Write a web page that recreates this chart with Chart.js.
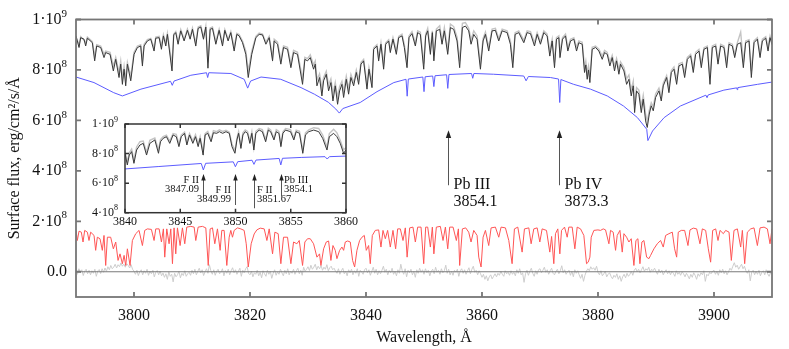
<!DOCTYPE html>
<html>
<head>
<meta charset="utf-8">
<script src="https://cdn.jsdelivr.net/npm/chart.js@4.4.1/dist/chart.umd.min.js"></script>
<style>
  html, body { margin: 0; padding: 0; background: #fff; }
  #wrap { position: relative; width: 789px; height: 349px; }
  #main { position: absolute; left: 0; top: 0; }
  #inset { position: absolute; left: 75px; top: 112px; }
</style>
</head>
<body>
<div id="wrap">
  <canvas id="main" width="789" height="349"></canvas>
  <canvas id="inset" width="285" height="125"></canvas>
</div>
<script>
// Valores de fluxo em unidades de 1e8 erg/cm2/s/Å

// Espectro superior: comprimento de onda, modelo (preto) e observado (cinza)
const topWl = [
  3790.00,3790.52,3790.81,3791.38,3791.67,3791.96,3792.82,3793.22,3793.57,3794.26,
  3794.83,3795.12,3795.87,3796.44,3796.85,3797.42,3797.71,3798.00,3798.29,3798.57,
  3798.86,3799.44,3800.01,3800.59,3801.16,3801.45,3801.74,3802.31,3802.89,3803.46,
  3803.75,3804.33,3804.73,3805.07,3805.48,3805.76,3806.55,3806.85,3807.20,3807.60,
  3808.06,3808.64,3809.21,3809.68,3810.08,3810.65,3811.06,3811.52,3811.98,3812.38,
  3812.75,3813.13,3813.53,3814.11,3814.68,3815.26,3815.66,3816.23,3816.69,3817.27,
  3817.73,3818.13,3818.71,3819.28,3819.70,3820.30,3821.01,3821.58,3822.16,3822.74,
  3823.31,3823.89,3824.17,3824.75,3825.32,3825.78,3826.47,3827.05,3827.51,3828.19,
  3829.06,3829.46,3829.92,
  3830.39,3830.96,3831.25,3831.54,3831.99,3832.40,3832.69,3833.15,3833.55,3833.95,
  3834.30,3834.70,3835.10,3835.45,3835.85,3836.14,3836.60,3837.00,3837.40,3837.87,
  3838.33,3838.73,3839.13,3839.59,3840.17,3840.51,3841.03,3841.32,3841.89,3842.18,
  3842.58,3843.04,3843.39,3843.91,3844.19,3844.65,3845.23,3845.63,3846.21,3846.61,
  3847.07,3847.41,3847.93,3848.51,3848.91,3849.37,3849.95,3850.29,3850.64,3851.10,
  3851.44,3851.70,3852.13,3852.71,3853.11,3853.51,3854.09,3854.55,3855.12,3855.70,
  3856.15,3856.62,3857.14,3857.71,3858.11,3858.58,3859.15,3859.73,3860.19,3860.59,
  3861.16,3861.74,3862.31,3862.89,3863.47,3864.33,3864.90,3865.31,3865.71,3866.34,
  3867.21,3867.78,3868.36,3869.05,3869.51,3870.08,3870.66,3871.23,3871.69,
  3872.10,3872.50,3872.84,3873.25,3873.45,3873.88,3874.40,3874.80,3875.26,3875.84,
  3876.30,3876.70,3877.28,3877.68,3877.90,3878.14,3878.37,3878.60,3879.00,3879.58,
  3880.15,3880.73,3881.13,3881.59,3882.05,3882.45,3882.85,3883.20,3883.60,3883.89,
  3884.47,3884.93,3885.33,3885.73,3886.08,3886.31,3886.65,3887.05,3887.46,3887.80,
  3888.21,3888.49,3888.84,3889.18,3889.53,3889.93,3890.51,3890.91,3891.25,3891.83,
  3892.23,3892.64,3893.10,3893.56,3893.96,3894.53,3894.94,3895.40,3895.97,3896.43,
  3896.83,3897.41,3897.81,3898.27,3898.85,3899.31,3899.71,3900.29,3900.69,3901.15,
  3901.72,3902.18,3902.59,3903.16,3903.57,3904.03,3904.60,3905.06,3905.46,3906.04,
  3906.44,3906.90,3907.48,3907.94,3908.34,3908.92,3909.32,3909.66,3910.00
];
const modelFlux = [
  9.35,8.89,9.28,9.22,8.95,9.26,9.08,8.36,8.95,8.89,
  8.49,8.69,8.62,7.96,8.42,7.70,8.23,7.43,8.03,7.37,
  8.23,7.57,8.62,8.89,8.95,8.16,8.95,9.15,9.22,8.75,
  9.26,9.28,8.82,9.35,8.95,9.41,7.96,9.39,9.48,9.02,
  9.55,9.15,9.57,9.22,9.61,8.95,9.65,9.70,9.22,9.70,
  8.07,9.61,9.65,9.02,9.57,8.95,9.57,9.15,9.48,8.75,
  9.41,9.35,9.08,8.62,7.70,8.62,9.28,9.41,9.39,9.02,
  9.28,8.36,9.15,9.02,8.23,8.89,8.82,8.09,8.69,8.62,
  7.43,8.42,8.36,
  8.49,8.03,8.23,7.37,7.70,6.97,7.57,7.83,7.17,7.50,
  6.77,7.37,6.64,7.17,7.43,6.91,7.63,7.04,7.70,7.37,
  7.90,7.43,8.23,8.36,7.24,8.03,7.30,8.82,8.95,8.36,
  9.02,8.03,9.02,9.15,8.69,9.22,8.62,9.28,9.35,8.89,
  8.09,9.28,9.44,8.95,9.48,9.41,8.03,9.35,9.55,8.62,
  9.48,8.36,9.55,9.61,9.02,9.55,8.62,9.68,9.61,9.15,
  8.09,9.68,9.74,9.55,9.02,9.41,9.22,8.03,9.15,9.41,
  8.75,9.55,9.57,9.15,9.55,9.48,9.02,8.09,9.41,9.48,
  9.08,9.48,9.44,8.95,9.41,9.02,9.48,9.35,8.55,
  9.15,8.09,9.22,9.28,8.49,9.22,9.35,8.75,9.15,9.22,
  8.75,9.08,9.02,7.90,8.20,7.63,8.00,7.50,8.82,8.89,
  8.75,8.42,8.69,8.62,8.16,8.49,7.96,8.36,7.83,8.23,
  7.96,7.43,7.63,6.97,7.37,6.31,7.17,7.04,6.31,6.84,
  5.98,5.72,6.25,6.58,6.38,6.91,7.17,6.77,7.37,7.70,
  7.10,7.90,8.03,7.43,8.16,8.23,7.70,8.42,8.56,7.90,
  8.62,8.75,8.09,8.82,8.89,7.43,8.89,8.95,8.23,8.95,
  8.89,8.09,9.02,8.95,8.49,9.02,9.08,8.09,9.08,9.15,
  7.70,9.08,9.22,8.49,9.15,9.26,8.75,9.28,9.00
];
const obsFlux = [
  9.30,9.00,9.32,9.18,9.05,9.30,9.12,8.55,9.00,8.95,
  8.62,8.75,8.70,8.15,8.50,7.90,8.35,7.65,8.15,7.60,
  8.30,7.75,8.70,8.95,9.00,8.35,9.02,9.20,9.25,8.88,
  9.30,9.33,8.95,9.40,9.05,9.45,8.20,9.42,9.52,9.12,
  9.60,9.22,9.62,9.30,9.66,9.05,9.70,9.75,9.30,9.74,
  8.30,9.66,9.70,9.12,9.62,9.05,9.60,9.22,9.52,8.90,
  9.45,9.40,9.15,8.75,7.95,8.75,9.33,9.46,9.42,9.10,
  9.33,8.50,9.22,9.10,8.40,8.95,8.90,8.25,8.78,8.70,
  7.65,8.50,8.45,
  8.60,8.20,8.35,7.60,7.85,7.25,7.70,7.95,7.40,7.65,
  7.05,7.50,6.90,7.35,7.55,7.15,7.75,7.25,7.82,7.50,
  8.00,7.60,8.30,8.42,7.45,8.10,7.50,8.88,9.00,8.50,
  9.08,8.25,9.08,9.20,8.80,9.28,8.75,9.33,9.42,9.00,
  8.30,9.35,9.52,9.05,9.55,9.50,8.25,9.42,9.65,8.80,
  9.55,8.55,9.62,9.75,9.15,9.68,8.80,9.82,9.72,9.30,
  8.35,9.85,9.88,9.65,9.20,9.55,9.35,8.25,9.25,9.50,
  8.90,9.62,9.65,9.25,9.62,9.55,9.15,8.30,9.48,9.55,
  9.18,9.55,9.52,9.08,9.48,9.12,9.55,9.42,8.75,
  9.22,8.30,9.28,9.35,8.65,9.28,9.42,8.88,9.22,9.28,
  8.90,9.15,9.10,8.10,8.35,7.85,8.15,7.72,8.90,8.95,
  8.82,8.55,8.78,8.70,8.32,8.58,8.15,8.45,8.00,8.32,
  8.10,7.65,7.80,7.20,7.55,6.60,7.30,7.20,6.55,7.00,
  6.25,5.95,6.40,6.70,6.55,7.05,7.28,6.95,7.48,7.78,
  7.30,7.98,8.12,7.62,8.25,8.30,7.88,8.50,8.62,8.08,
  8.70,8.82,8.25,8.88,8.95,7.70,8.95,9.02,8.40,9.02,
  8.95,8.28,9.08,9.02,8.62,9.08,9.50,8.30,9.15,9.20,
  7.95,9.15,9.28,8.65,9.22,9.32,8.90,9.35,9.10
];

// Modelo sem linhas (azul): [comprimento de onda, fluxo]
const blueSpec = [
  [3790.0,7.72],[3793.1,7.50],[3796.5,7.10],[3798.0,6.97],[3801.2,7.24],[3806.3,7.55],[3806.6,7.39],[3806.9,7.56],
  [3809.8,7.79],[3812.5,7.89],[3812.7,7.70],[3812.9,7.89],[3816.7,7.86],[3819.0,7.63],[3819.6,7.28],[3820.1,7.56],
  [3821.9,7.72],[3825.3,7.63],[3828.8,7.30],[3831.1,7.04],[3833.5,6.72],[3834.8,6.45],[3835.4,6.29],[3836.0,6.47],
  [3839.0,6.71],[3841.9,7.14],[3844.8,7.50],[3846.9,7.63],[3847.1,6.96],[3847.3,7.64],[3849.8,7.72],[3850.0,7.14],
  [3850.2,7.73],[3851.5,7.76],[3851.7,7.34],[3851.9,7.77],[3853.9,7.81],[3854.1,7.27],[3854.3,7.82],[3858.2,7.86],
  [3858.4,7.67],[3858.6,7.86],[3862.0,7.83],[3867.2,7.76],[3867.6,7.57],[3868.0,7.74],[3871.8,7.70],[3873.2,7.64],
  [3873.4,6.71],[3873.6,7.62],[3875.8,7.43],[3878.7,7.24],[3881.6,6.97],[3884.4,6.57],[3886.8,6.11],[3888.4,5.65],
  [3888.6,5.20],[3889.4,5.58],[3891.4,6.11],[3894.2,6.57],[3898.6,7.00],[3898.8,6.90],[3899.0,7.01],[3901.7,7.20],
  [3903.9,7.29],[3904.0,7.22],[3904.1,7.30],[3907.5,7.43],[3910.0,7.52]
];

// Espectro vermelho: [comprimento de onda, fluxo]
const redSpec = [
  [3790.00,1.64],[3790.23,1.24],[3790.52,1.61],[3790.92,1.57],[3791.21,1.18],[3791.50,1.64],[3791.96,1.57],[3792.24,1.24],
  [3792.53,1.57],[3793.11,1.44],[3793.39,0.85],[3793.68,1.37],[3794.14,1.31],[3794.54,0.85],[3794.83,1.44],[3795.12,0.25],
  [3795.41,1.37],[3795.98,1.37],[3796.44,0.91],[3796.85,1.18],[3797.25,0.45],[3797.59,0.71],[3798.00,0.32],[3798.29,0.65],
  [3798.57,0.25],[3798.86,0.91],[3799.32,0.25],[3799.72,1.24],[3800.30,1.51],[3800.87,1.64],[3801.45,1.04],[3801.85,1.64],
  [3802.31,1.70],[3803.00,1.68],[3803.46,1.24],[3803.75,1.70],[3804.33,1.70],[3804.73,1.18],[3805.07,1.70],[3805.30,0.58],
  [3805.65,1.70],[3806.05,1.11],[3806.34,1.70],[3806.63,0.32],[3806.91,1.74],[3807.20,0.71],[3807.49,1.74],[3807.95,1.04],
  [3808.35,1.74],[3808.75,1.11],[3809.10,1.77],[3809.79,1.80],[3810.37,1.77],[3810.65,1.24],[3811.06,1.77],[3811.80,1.80],
  [3812.38,1.74],[3812.80,0.25],[3813.13,1.70],[3813.53,1.74],[3813.93,1.11],[3814.39,1.70],[3814.85,0.85],[3815.14,1.64],
  [3815.54,1.64],[3816.00,0.25],[3816.41,1.37],[3816.69,1.64],[3816.98,1.37],[3817.27,1.64],[3817.84,1.74],[3818.42,1.70],
  [3818.99,1.64],[3819.35,1.11],[3819.70,0.19],[3820.20,1.11],[3820.72,1.50],[3821.18,1.66],[3821.76,1.73],[3822.45,1.70],
  [3822.91,1.24],[3823.31,1.70],[3823.89,0.71],[3824.29,1.57],[3824.86,1.51],[3825.32,0.32],[3825.78,1.37],[3826.47,1.37],
  [3827.05,0.32],[3827.51,1.18],[3828.08,1.11],[3828.49,1.24],[3829.06,0.25],[3829.46,1.18],[3829.92,1.31],[3830.39,1.31],
  [3830.96,1.11],[3831.54,0.58],[3831.99,0.71],[3832.23,0.25],[3832.69,0.91],[3833.15,1.18],[3833.55,1.22],[3833.95,0.45],
  [3834.30,1.04],[3834.70,0.85],[3834.99,0.52],[3835.45,0.85],[3835.85,0.98],[3836.14,0.85],[3836.43,1.18],[3836.83,1.22],
  [3837.29,1.18],[3837.69,0.45],[3838.04,0.19],[3838.44,0.85],[3838.90,1.24],[3839.30,1.37],[3839.71,1.44],[3840.05,0.85],
  [3840.45,1.04],[3840.74,0.32],[3841.09,1.44],[3841.60,1.64],[3842.18,1.66],[3842.58,0.98],[3842.93,1.64],[3843.33,1.31],
  [3843.73,1.64],[3844.19,0.98],[3844.65,1.64],[3845.11,0.91],[3845.46,1.70],[3845.92,1.70],[3846.38,1.24],[3846.78,1.74],
  [3847.09,0.58],[3847.53,1.74],[3848.10,1.77],[3848.51,1.18],[3848.91,1.77],[3849.49,1.77],[3849.95,0.32],[3850.29,1.77],
  [3850.64,1.77],[3851.10,0.98],[3851.44,1.77],[3851.70,0.71],[3852.13,1.77],[3852.82,1.80],[3853.28,1.24],[3853.69,1.77],
  [3854.09,0.91],[3854.43,1.77],[3855.01,1.77],[3855.58,1.24],[3855.93,1.70],[3856.15,0.25],[3856.62,1.70],[3857.19,1.74],
  [3857.71,1.57],[3858.11,1.18],[3858.58,1.64],[3859.15,1.44],[3859.44,0.58],[3859.84,0.19],[3860.19,1.37],[3860.59,1.64],
  [3861.16,1.04],[3861.57,1.74],[3862.31,1.77],[3862.89,1.37],[3863.29,1.77],[3864.04,1.74],[3864.62,1.24],[3865.19,0.32],
  [3865.59,1.70],[3866.17,1.77],[3866.92,0.78],[3867.32,1.70],[3868.07,1.74],[3868.47,1.11],[3868.93,1.70],[3869.51,1.74],
  [3869.97,1.18],[3870.37,1.70],[3871.12,1.64],[3871.69,0.78],[3872.00,1.40],[3872.38,0.32],[3872.67,1.51],[3873.07,1.70],
  [3873.42,0.71],[3873.71,1.64],[3874.23,1.77],[3874.69,1.37],[3874.97,1.77],[3875.55,1.77],[3876.01,0.91],[3876.41,1.77],
  [3876.99,1.70],[3877.56,1.44],[3878.02,0.32],[3878.31,0.38],[3878.60,0.58],[3878.83,1.37],[3879.29,1.64],[3879.98,1.66],
  [3880.44,1.64],[3880.90,1.70],[3881.30,1.66],[3881.88,1.11],[3882.16,1.64],[3882.62,1.57],[3883.03,0.85],[3883.31,1.44],
  [3883.78,1.64],[3884.18,0.78],[3884.47,1.51],[3884.93,1.37],[3885.33,1.18],[3885.73,1.31],[3886.19,0.25],[3886.54,1.24],
  [3886.88,1.31],[3887.23,0.32],[3887.57,1.18],[3887.92,1.24],[3888.38,0.58],[3888.78,0.52],[3889.07,0.65],[3889.64,0.91],
  [3890.22,1.11],[3890.79,1.24],[3891.25,0.98],[3891.66,1.44],[3892.23,1.51],[3892.81,1.57],[3893.21,0.91],[3893.56,0.58],
  [3893.84,1.57],[3894.36,1.64],[3894.94,1.64],[3895.51,1.04],[3895.86,1.66],[3896.43,1.73],[3897.01,1.70],[3897.58,1.11],
  [3897.99,1.70],[3898.56,1.64],[3899.02,0.91],[3899.42,0.38],[3899.77,1.64],[3900.29,1.70],[3900.69,1.24],[3901.04,1.64],
  [3901.61,1.51],[3902.01,1.64],[3902.59,1.57],[3902.99,0.45],[3903.45,1.64],[3904.03,1.70],[3904.60,0.98],[3904.89,1.64],
  [3905.29,0.32],[3905.75,1.57],[3906.33,1.70],[3906.90,1.74],[3907.48,1.04],[3907.94,1.74],[3908.63,1.77],[3909.20,1.70],
  [3909.66,1.11],[3910.00,1.70]
];

// Resíduo (cinza, perto de zero), amostrado a cada 0.25 Å a partir de 3790
const RESID_START = 3790;
const RESID_STEP = 0.25;
const residFlux = [
  0.05,-0.10,0.12,-0.04,0.08,-0.15,0.02,0.10,-0.08,0.06,
  -0.12,0.04,-0.06,0.10,-0.18,0.03,0.09,-0.07,0.12,-0.02,
  0.15,0.02,0.20,0.08,0.25,0.12,0.18,0.30,0.15,0.28,
  0.20,0.35,0.22,0.30,0.18,0.32,0.25,0.15,0.28,0.10,
  0.02,-0.10,0.06,-0.15,0.00,0.08,-0.12,0.04,-0.06,0.10,
  -0.14,0.02,-0.08,0.06,-0.20,-0.02,0.05,-0.12,0.03,-0.16,
  -0.05,-0.22,-0.08,-0.30,0.00,-0.18,-0.10,-0.40,-0.06,-0.20,
  -0.12,0.02,-0.24,-0.06,-0.15,0.04,-0.18,-0.08,-0.02,-0.14,
  0.06,-0.08,0.10,-0.12,0.02,0.14,-0.05,0.08,-0.15,0.00,
  0.12,-0.06,0.28,0.04,-0.10,0.08,-0.14,0.02,0.10,-0.08,
  -0.02,0.12,-0.16,0.05,-0.06,0.10,-0.12,0.04,0.16,-0.04,
  0.08,-0.10,0.02,0.14,-0.18,0.06,-0.04,0.12,0.20,-0.06,
  -0.12,0.02,-0.20,-0.04,-0.10,0.06,-0.16,-0.02,-0.24,0.04,
  -0.08,-0.18,0.06,-0.10,0.02,-0.26,-0.06,0.08,-0.14,0.00,
  -0.10,0.10,-0.04,-0.16,0.06,-0.08,0.12,-0.12,0.02,-0.06,
  0.10,-0.10,0.04,0.14,-0.08,0.06,-0.14,0.18,0.02,0.10,
  0.20,0.05,0.26,0.10,0.18,0.30,0.08,0.22,0.12,0.25,
  0.06,0.18,0.10,0.28,0.04,0.16,0.22,0.08,0.14,0.02,
  -0.06,0.12,-0.10,0.04,0.14,-0.08,0.02,-0.16,0.08,-0.04,
  0.10,-0.12,0.04,-0.06,0.12,-0.18,0.06,0.00,-0.10,0.08,
  0.14,-0.04,0.08,-0.14,0.02,0.18,-0.06,0.10,-0.12,0.04,
  -0.08,0.06,0.22,-0.02,0.10,-0.12,0.05,-0.04,0.14,-0.10,
  0.02,-0.16,0.08,-0.06,0.30,0.04,-0.10,0.12,-0.20,0.06,
  -0.04,0.10,-0.12,0.02,-0.22,0.08,-0.06,0.14,-0.02,0.08,
  -0.10,0.12,-0.04,0.06,-0.16,0.02,0.10,-0.08,0.18,-0.02,
  0.06,-0.10,0.12,-0.04,0.04,0.26,-0.06,0.10,-0.12,0.02,
  -0.14,0.06,-0.02,0.10,-0.18,0.04,0.12,-0.06,0.08,-0.10,
  0.04,0.16,-0.08,0.10,0.22,-0.02,0.06,-0.12,0.04,-0.08,
  -0.22,-0.10,-0.30,-0.16,-0.36,-0.20,-0.12,-0.28,-0.18,-0.08,
  -0.20,-0.06,-0.14,0.02,-0.10,-0.18,0.04,-0.08,-0.02,-0.14,
  0.04,-0.10,-0.02,-0.16,0.08,-0.06,0.12,-0.12,-0.04,-0.42,
  -0.08,0.06,-0.14,0.02,0.14,-0.06,-0.18,0.04,-0.10,0.08,
  0.12,-0.04,0.06,0.18,-0.02,0.08,-0.10,0.04,0.14,-0.06,
  -0.12,0.02,0.10,-0.08,0.04,0.24,-0.04,0.08,-0.10,0.00,
  0.06,-0.14,0.02,-0.20,0.08,-0.06,0.04,-0.12,-0.26,-0.10,
  -0.38,-0.14,0.02,0.12,0.04,0.20,0.10,0.16,0.06,0.22,
  -0.02,-0.12,0.04,-0.16,-0.08,0.02,-0.20,-0.10,-0.04,-0.18,
  -0.28,-0.14,-0.22,-0.08,-0.30,-0.16,-0.38,-0.20,-0.10,-0.24,
  -0.06,-0.18,-0.10,0.02,-0.14,0.06,0.14,0.00,0.10,-0.04,
  0.08,0.20,0.02,0.12,0.06,0.18,-0.02,0.10,0.04,0.14,
  0.02,-0.10,0.10,-0.04,0.06,-0.12,0.00,0.08,-0.08,0.04,
  -0.12,0.02,-0.06,-0.18,0.04,-0.10,-0.02,-0.14,0.00,-0.08,
  -0.20,-0.06,-0.16,-0.28,-0.10,-0.22,-0.04,-0.14,-0.30,-0.08,
  -0.18,-0.04,-0.12,0.04,-0.38,-0.10,-0.16,-0.02,-0.08,0.02,
  0.06,-0.10,0.02,-0.14,0.08,-0.04,0.10,-0.08,0.04,-0.12,
  0.00,0.14,0.06,0.22,0.36,0.18,0.26,0.10,0.20,0.30,
  0.12,0.22,0.04,-0.06,0.08,-0.36,-0.02,0.06,-0.12,0.02,
  -0.10,0.06,-0.16,-0.02,0.04,-0.12,0.08,-0.08,-0.18,-0.04,
  -0.06
];

// Inserção 3840-3860: [comprimento de onda, modelo, observado]
const insetSpec = [
  [3840.00,8.02,8.15],[3840.21,7.23,7.45],[3840.39,7.90,8.05],[3840.60,8.13,8.30],[3840.81,7.34,7.55],
  [3841.05,8.24,8.45],[3841.35,8.58,8.80],[3841.65,8.69,8.85],[3841.95,7.90,8.10],[3842.25,8.69,8.90],
  [3842.70,8.92,9.05],[3843.03,8.02,8.25],[3843.21,8.80,8.95],[3843.45,9.03,9.15],[3843.75,9.14,9.25],
  [3844.05,8.69,8.85],[3844.35,9.26,9.35],[3844.64,9.14,9.30],[3844.88,8.47,8.65],[3845.09,9.14,9.25],
  [3845.39,9.37,9.45],[3845.60,8.58,8.75],[3845.84,9.26,9.35],[3846.14,8.69,8.85],[3846.38,9.14,9.28],
  [3846.62,8.47,8.65],[3846.80,9.03,9.15],[3847.07,7.90,8.10],[3847.25,9.26,9.35],[3847.49,9.37,9.50],
  [3847.79,8.80,8.95],[3848.00,9.41,9.55],[3848.30,9.37,9.48],[3848.54,9.48,9.60],[3848.84,9.37,9.50],
  [3849.14,9.48,9.58],[3849.44,9.37,9.45],[3849.68,8.47,8.65],[3849.95,8.02,8.20],[3850.13,8.92,9.05],
  [3850.28,9.37,9.48],[3850.49,8.35,8.55],[3850.67,9.26,9.40],[3850.88,9.48,9.60],[3851.09,9.37,9.50],
  [3851.30,8.69,8.85],[3851.48,9.37,9.48],[3851.66,8.24,8.40],[3851.84,9.37,9.50],[3852.14,9.59,9.70],
  [3852.43,9.48,9.62],[3852.73,8.80,8.95],[3852.97,9.59,9.72],[3853.18,9.48,9.60],[3853.48,8.92,9.05],
  [3853.69,9.48,9.62],[3853.93,9.37,9.50],[3854.11,8.47,8.65],[3854.29,9.37,9.48],[3854.53,9.59,9.70],
  [3854.98,9.48,9.62],[3855.28,8.92,9.05],[3855.49,9.48,9.58],[3855.79,9.37,9.50],[3856.09,8.02,8.20],
  [3856.33,9.26,9.40],[3856.63,9.48,9.60],[3857.08,9.59,9.75],[3857.53,9.48,9.70],[3857.89,9.03,9.25],
  [3858.28,8.24,8.45],[3858.49,9.14,9.35],[3858.88,9.37,9.65],[3859.18,9.14,9.40],[3859.48,8.69,8.90],
  [3859.78,8.02,8.25],[3860.00,8.24,8.40]
];
const insetBlue = [
  [3840.0,6.96],[3843.0,7.12],[3846.9,7.33],[3847.09,6.89],[3847.3,7.34],[3849.8,7.44],[3849.99,7.11],[3850.2,7.45],
  [3851.5,7.55],[3851.67,7.27],[3851.85,7.56],[3853.95,7.67],[3854.1,7.23],[3854.25,7.68],[3856.0,7.74],[3858.1,7.79],
  [3858.3,7.63],[3858.5,7.79],[3860.0,7.83]
];

// Marcadores de linhas
const mainMarks = [
  { wl: 3854.1, text: ['Pb III', '3854.1'] },
  { wl: 3873.3, text: ['Pb IV', '3873.3'] }
];
const insetMarks = [
  { wl: 3847.09, text: ['F II', '3847.09'] },
  { wl: 3849.99, text: ['F II', '3849.99'] },
  { wl: 3851.67, text: ['F II', '3851.67'] },
  { wl: 3854.1, text: ['Pb III', '3854.1'] }
];

const xTicksMain = [3800, 3820, 3840, 3860, 3880, 3900];
const yTicksMain = [0, 2, 4, 6, 8, 10];
const xTicksInset = [3840, 3845, 3850, 3855, 3860];
const yTicksInset = [4, 6, 8, 10];

const FONT = '"Liberation Serif", "Times New Roman", serif';
const E8 = 1e8;

function pts(pairs, col) {
    return pairs.map(p => ({ x: p[0], y: p[col] * E8 }));
}

function line(data, color, width) {
    return { data: data, borderColor: color, borderWidth: width, pointRadius: 0, fill: false, tension: 0 };
}

// Rótulo do tipo 8·10^8 com expoente elevado, alinhado à direita
function powLabel(ctx, v, xr, y, size) {
    ctx.textBaseline = 'middle';
    ctx.textAlign = 'left';
    if (v === 0) {
        ctx.font = size + 'px ' + FONT;
        const w = ctx.measureText('0.0').width;
        ctx.fillText('0.0', xr - w, y);
        return;
    }
    const mant = v === 10 ? '1' : String(v);
    const exp = v === 10 ? '9' : '8';
    const base = mant + '\u00B710';
    const small = Math.round(size * 0.68);
    ctx.font = small + 'px ' + FONT;
    const we = ctx.measureText(exp).width;
    ctx.font = size + 'px ' + FONT;
    const wb = ctx.measureText(base).width;
    ctx.fillText(base, xr - wb - we, y);
    ctx.font = small + 'px ' + FONT;
    ctx.fillText(exp, xr - we, y - size * 0.36);
}

function frameAndTicks(chart, xt, yt, len, color, width) {
    const { ctx, chartArea: a, scales } = chart;
    ctx.save();
    ctx.strokeStyle = color;
    ctx.lineWidth = width;
    ctx.beginPath();
    xt.forEach(v => {
        const px = scales.x.getPixelForValue(v);
        ctx.moveTo(px, a.bottom); ctx.lineTo(px, a.bottom - len);
        ctx.moveTo(px, a.top); ctx.lineTo(px, a.top + len);
    });
    yt.forEach(v => {
        const py = scales.y.getPixelForValue(v * E8);
        ctx.moveTo(a.left, py); ctx.lineTo(a.left + len, py);
        ctx.moveTo(a.right, py); ctx.lineTo(a.right - len, py);
    });
    ctx.stroke();
    ctx.strokeRect(a.left, a.top, a.right - a.left, a.bottom - a.top);
    ctx.restore();
}

function arrow(ctx, x, y0, y1, head) {
    ctx.beginPath();
    ctx.moveTo(x, y0); ctx.lineTo(x, y1 + head);
    ctx.stroke();
    ctx.beginPath();
    ctx.moveTo(x, y1);
    ctx.lineTo(x - head * 0.45, y1 + head * 1.3);
    ctx.lineTo(x + head * 0.45, y1 + head * 1.3);
    ctx.closePath();
    ctx.fill();
}

const mainDecor = {
    id: 'mainDecor',
    beforeDraw(chart) {
        const ctx = chart.ctx;
        ctx.save();
        ctx.fillStyle = '#fff';
        ctx.fillRect(0, 0, chart.width, chart.height);
        ctx.restore();
    },
    afterDraw(chart) {
        const { ctx, chartArea: a, scales } = chart;
        frameAndTicks(chart, xTicksMain, yTicksMain, 5, '#767676', 1.8);
        ctx.save();
        ctx.fillStyle = '#111';
        yTicksMain.forEach(v => powLabel(ctx, v, 67, scales.y.getPixelForValue(v * E8), 16));

        ctx.font = '16px ' + FONT;
        ctx.textAlign = 'center';
        ctx.textBaseline = 'middle';
        ctx.fillText('Wavelength, \u00C5', (a.left + a.right) / 2, 338);
        ctx.save();
        ctx.translate(15, (a.top + a.bottom) / 2);
        ctx.rotate(-Math.PI / 2);
        ctx.fillText('Surface flux, erg/cm\u00B2/s/\u00C5', 0, 0);
        ctx.restore();

        // setas Pb III / Pb IV
        ctx.strokeStyle = '#555';
        ctx.lineWidth = 1;
        const yTop = scales.y.getPixelForValue(5.61 * E8);
        const yBot = scales.y.getPixelForValue(3.43 * E8);
        mainMarks.forEach(m => {
            const px = Math.round(scales.x.getPixelForValue(m.wl)) + 0.5;
            ctx.fillStyle = '#222';
            arrow(ctx, px, yBot, yTop, 6);
            ctx.fillStyle = '#111';
            ctx.font = '16px ' + FONT;
            ctx.textAlign = 'left';
            ctx.textBaseline = 'middle';
            ctx.fillText(m.text[0], px + 5, yBot);
            ctx.fillText(m.text[1], px + 5, yBot + 17);
        });
        ctx.restore();
    }
};

const insetDecor = {
    id: 'insetDecor',
    beforeDraw(chart) {
        const { ctx, chartArea: a } = chart;
        ctx.save();
        ctx.fillStyle = '#fff';
        ctx.fillRect(a.left, a.top, a.right - a.left, a.bottom - a.top);
        ctx.restore();
    },
    afterDraw(chart) {
        const { ctx, scales } = chart;
        frameAndTicks(chart, xTicksInset, yTicksInset, 4, '#333', 1.5);
        ctx.save();
        ctx.fillStyle = '#111';
        yTicksInset.forEach(v => powLabel(ctx, v, 43, scales.y.getPixelForValue(v * E8), 12));

        const yTop = scales.y.getPixelForValue(6.62 * E8);
        const bottoms = [5.08, 4.52, 4.30, 5.08];
        const rightSide = [false, false, true, true];
        const textDrop = [6, 16, 16, 6];
        ctx.strokeStyle = '#555';
        ctx.lineWidth = 1;
        insetMarks.forEach((m, i) => {
            const px = Math.round(scales.x.getPixelForValue(m.wl)) + 0.5;
            ctx.fillStyle = '#222';
            arrow(ctx, px, scales.y.getPixelForValue(bottoms[i] * E8), yTop, 5);
            ctx.fillStyle = '#111';
            ctx.font = '10.5px ' + FONT;
            ctx.textBaseline = 'middle';
            ctx.textAlign = rightSide[i] ? 'left' : 'right';
            const tx = rightSide[i] ? px + 2.5 : px - 4.5;
            ctx.fillText(m.text[0], tx, yTop + textDrop[i]);
            ctx.fillText(m.text[1], tx, yTop + textDrop[i] + 9.5);
        });
        ctx.restore();
    }
};

const topModel = topWl.map((w, i) => ({ x: w, y: modelFlux[i] * E8 }));
const topObs = topWl.map((w, i) => ({ x: w, y: (obsFlux[i] ?? modelFlux[i]) * E8 }));
const resid = residFlux.map((v, i) => ({ x: RESID_START + i * RESID_STEP, y: v * E8 }));
const zeroLine = [{ x: 3790, y: 0 }, { x: 3910, y: 0 }];

new Chart(document.getElementById('main'), {
    type: 'line',
    data: {
        datasets: [
            line(topModel, '#383838', 1),
            line(topObs, '#c4c4c4', 1.4),
            line(pts(blueSpec, 1), '#5c5cff', 1),
            line(pts(redSpec, 1), '#ff5555', 1),
            line(zeroLine, '#7a7a7a', 1.2),
            line(resid, '#cdcdcd', 1)
        ]
    },
    options: {
        responsive: false,
        animation: false,
        events: [],
        layout: { padding: { top: 19.5, right: 17, left: 0, bottom: 0 } },
        plugins: { legend: { display: false }, tooltip: { enabled: false } },
        scales: {
            x: {
                type: 'linear', min: 3790, max: 3910,
                grid: { display: false, drawTicks: false },
                border: { display: false },
                ticks: { font: { family: FONT, size: 16 }, color: '#111', padding: 9, maxRotation: 0, callback: v => String(v) },
                afterBuildTicks: s => { s.ticks = xTicksMain.map(v => ({ value: v })); },
                afterFit: s => { s.height = 52; }
            },
            y: {
                type: 'linear', min: -1 * E8, max: 10 * E8,
                grid: { display: false, drawTicks: false },
                border: { display: false },
                ticks: { display: false },
                afterFit: s => { s.width = 76; }
            }
        }
    },
    plugins: [mainDecor]
});

new Chart(document.getElementById('inset'), {
    type: 'line',
    data: {
        datasets: [
            line(pts(insetSpec, 1), '#383838', 1),
            line(pts(insetSpec, 2), '#c4c4c4', 1.4),
            line(pts(insetBlue, 1), '#5c5cff', 1)
        ]
    },
    options: {
        responsive: false,
        animation: false,
        events: [],
        layout: { padding: { top: 12, right: 12.5, left: 0, bottom: 0 } },
        plugins: { legend: { display: false }, tooltip: { enabled: false } },
        scales: {
            x: {
                type: 'linear', min: 3840, max: 3860,
                grid: { display: false, drawTicks: false },
                border: { display: false },
                ticks: { font: { family: FONT, size: 12 }, color: '#111', padding: 2, maxRotation: 0, callback: v => String(v) },
                afterBuildTicks: s => { s.ticks = xTicksInset.map(v => ({ value: v })); },
                afterFit: s => { s.height = 24.3; }
            },
            y: {
                type: 'linear', min: 4 * E8, max: 10 * E8,
                grid: { display: false, drawTicks: false },
                border: { display: false },
                ticks: { display: false },
                afterFit: s => { s.width = 50; }
            }
        }
    },
    plugins: [insetDecor]
});
</script>
</body>
</html>
